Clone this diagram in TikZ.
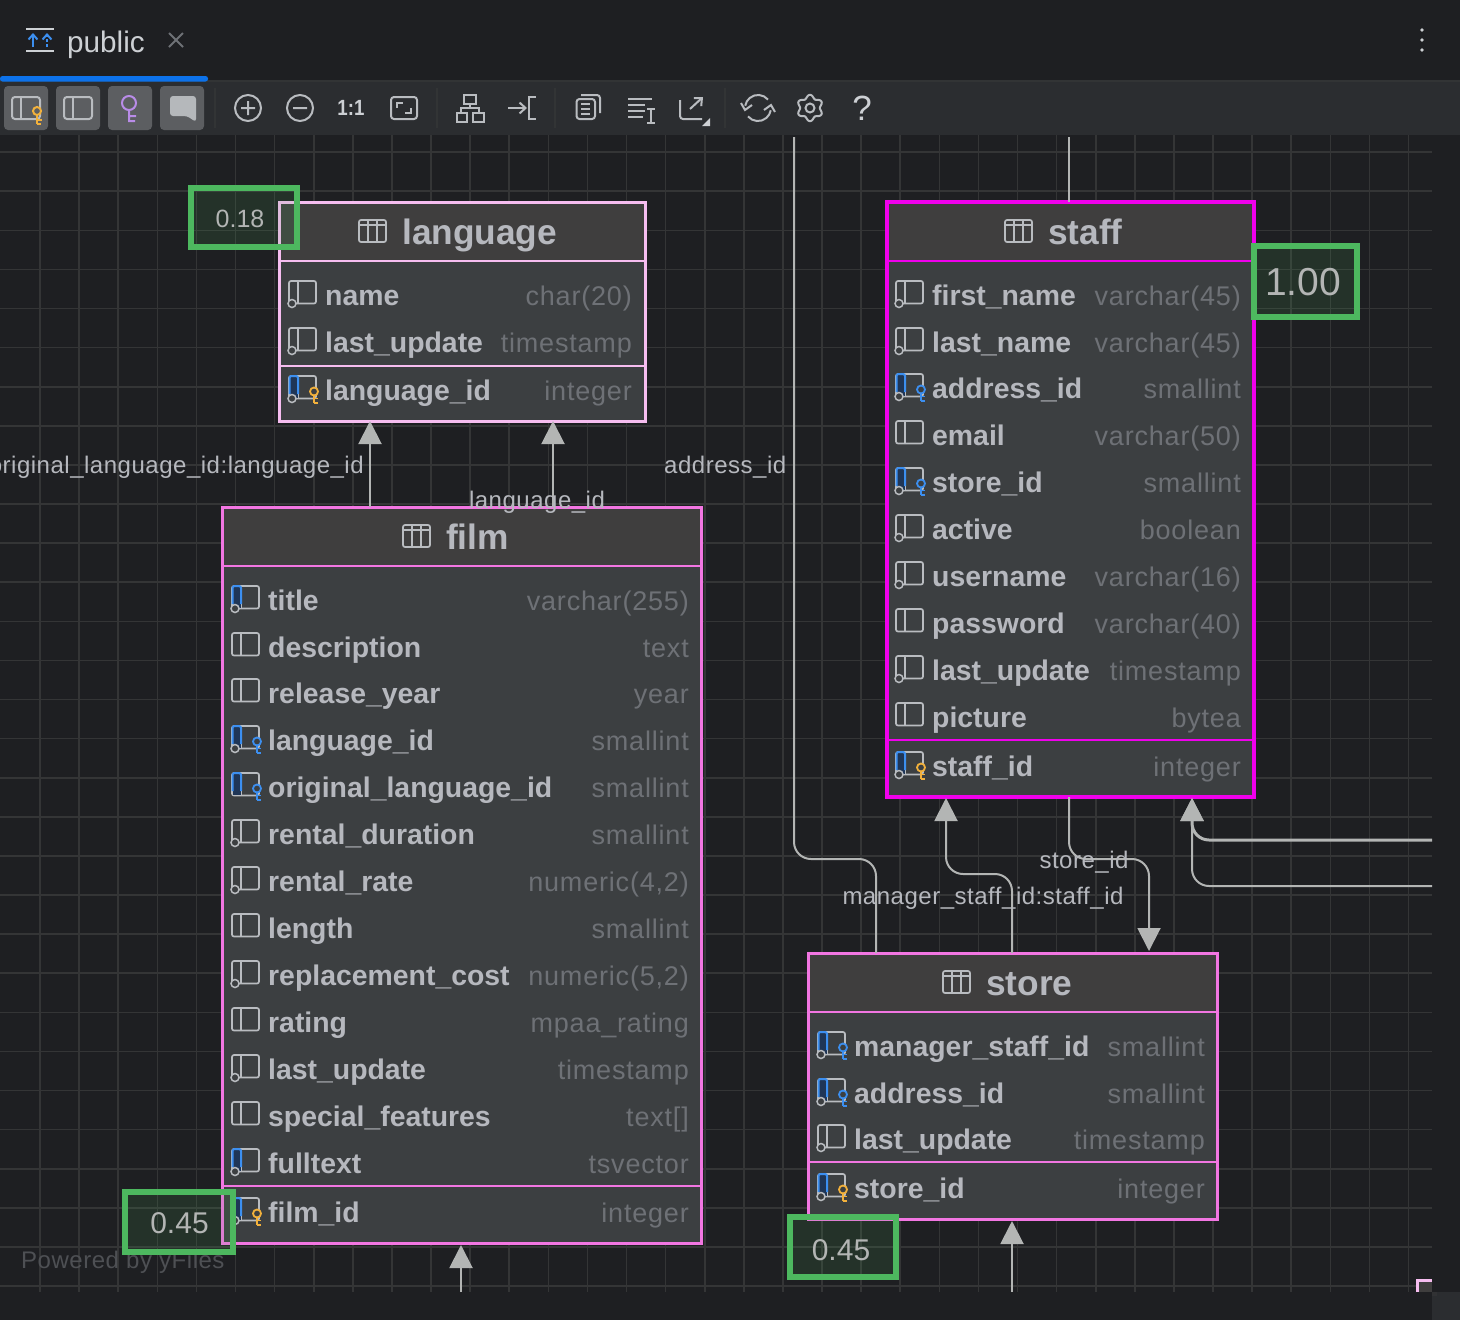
\documentclass[tikz,border=0pt]{standalone}
\usepackage{fontspec}
\setmainfont{Liberation Sans}
\newfontfamily\typefont[LetterSpace=3]{Liberation Sans}
\newfontfamily\labelfont[LetterSpace=2.15]{Liberation Sans}
\usetikzlibrary{arrows.meta}

\definecolor{canvasbg}{HTML}{1E1F22}
\definecolor{toolbarbg}{HTML}{2B2D30}
\definecolor{gridcol}{HTML}{343536}
\definecolor{rowbg}{HTML}{3C3F41}
\definecolor{headbg}{HTML}{3F3E3E}
\definecolor{inktext}{HTML}{B6B8BE}
\definecolor{typetext}{HTML}{6E7176}
\definecolor{linkcol}{HTML}{B3B5B4}
\definecolor{iconcol}{HTML}{B9BCC0}
\definecolor{barcol}{HTML}{CDD0D4}
\definecolor{keyorange}{HTML}{F2B13C}
\definecolor{keyblue}{HTML}{3C8FF0}
\definecolor{tabblue}{HTML}{0D72EA}
\definecolor{navy}{HTML}{1F3657}
\definecolor{keyviolet}{HTML}{B98CE8}
\definecolor{scoregreen}{HTML}{4DB85F}
\definecolor{paleborder}{HTML}{F6BDF0}
\definecolor{midborder}{HTML}{F276E2}
\definecolor{hotborder}{HTML}{F000EC}

\tikzset{
  gridline/.style={gridcol, line width=1.6pt},
  link/.style={linkcol, line width=2pt, rounded corners=17pt},
  tiplink/.style={link, -{Triangle[length=23pt,width=23pt]}},
  linklabel/.style={text=inktext, font=\labelfont\fontsize{24}{24}\selectfont, inner sep=0pt},
  paleedge/.style={draw=paleborder, line width=3pt},
  midedge/.style={draw=midborder, line width=3pt},
  hotedge/.style={draw=hotborder, line width=4pt},
  tablebox/.style={rectangle, fill=rowbg, inner sep=0pt, outer sep=0pt},
  headbox/.style={tablebox, fill=headbg, anchor=north west},
  headtext/.style={text=inktext, font=\bfseries\fontsize{35.3}{35}\selectfont, inner sep=0pt, anchor=base west},
  rowname/.style={text=inktext, font=\bfseries\fontsize{28.4}{28}\selectfont, inner sep=0pt, anchor=base west},
  rowtype/.style={text=typetext, font=\typefont\fontsize{27}{27}\selectfont, inner sep=0pt, anchor=base east},
  scorebox/.style={rectangle, draw=scoregreen, fill=scoregreen, fill opacity=.13, draw opacity=1, line width=6pt, inner sep=0pt, outer sep=0pt},
  scoretext/.style={text=linkcol, inner sep=0pt},
  iconline/.style={iconcol, line width=1.7pt},
  toolicon/.style={iconcol, line width=2pt},
  togglebtn/.style={rectangle, fill=barcol!30!toolbarbg, rounded corners=4pt, minimum width=44pt, minimum height=44pt, inner sep=0pt},
}

\newcommand{\colframe}{\draw[iconline, rounded corners=2pt] (-36,-14) rectangle (-9,8.5); \draw[iconline] (-27,-14) -- (-27,8.5);}
\newcommand{\colstripe}{\fill[navy] (-35,-13) rectangle (-27,8); \draw[keyblue, line width=2pt, rounded corners=2pt] (-35.5,4) -- (-35.5,-14) -- (-27,-14) -- (-27,4);}
\newcommand{\colring}{\filldraw[fill=rowbg, draw=iconcol, line width=1.5pt] (-33,8.5) circle (4);}
\newcommand{\colkey}[1]{\draw[#1, line width=1.8pt] (-11,5.5) -- (-11,13) (-11,8.5) -- (-7,8.5) (-11,13) -- (-7,13); \filldraw[fill=rowbg, draw=#1, line width=1.8pt] (-11,1.5) circle (4);}
\newcommand{\iconn}[2]{\begin{scope}[shift={(#1,#2)}]\colframe\colring\end{scope}}
\newcommand{\iconp}[2]{\begin{scope}[shift={(#1,#2)}]\colframe\end{scope}}
\newcommand{\iconc}[2]{\begin{scope}[shift={(#1,#2)}]\colframe\colstripe\colring\end{scope}}
\newcommand{\iconf}[2]{\begin{scope}[shift={(#1,#2)}]\colframe\colstripe\colring\colkey{keyblue}\end{scope}}
\newcommand{\icong}[2]{\begin{scope}[shift={(#1,#2)}]\colframe\colstripe\colkey{keyblue}\end{scope}}
\newcommand{\iconk}[2]{\begin{scope}[shift={(#1,#2)}]\colframe\colstripe\colring\colkey{keyorange}\end{scope}}

\newcommand{\tableicon}[2]{\begin{scope}[shift={(#1,#2)}]
  \draw[iconline, rounded corners=2pt] (0,-12) rectangle (27,10);
  \draw[iconline] (0,-7) -- (27,-7) (9,-12) -- (9,10) (18,-12) -- (18,10);
\end{scope}}

% name, left, top, right, bottom, header bottom, edge style, title x, title baseline
\newcommand{\dbtable}[9]{
  \node[tablebox, minimum width={(#4-#2)*1pt}, minimum height={(#5-#3)*1pt}] (#1) at ({(#2+#4)/2},{(#3+#5)/2}) {};
  \node[headbox, minimum width={(#4-#2)*1pt}, minimum height={(#6-#3)*1pt}] (#1-head) at (#1.north west) {};
  \draw[#7] (#1.north west) rectangle (#1.south east);
  \draw[#7, line width=2pt] (#1-head.south west) -- (#1-head.south east);
  \node[headtext] (#1-title) at (#8,#9) {#1};
  \tableicon{#8-43}{#9-12}
}
% table, name x, type right end, rows
\newcommand{\dbrows}[4]{
  \foreach \col/\typ/\kind/\y [count=\rownum] in {#4} {
    \node[rowname] (#1-col-\rownum) at (#2,\y+10) {\col};
    \node[rowtype] (#1-typ-\rownum) at (#3,\y+10) {\typ};
    \csname icon\kind\endcsname{#2}{\y}
  }
}

\begin{document}
\begin{tikzpicture}[x=1pt,y=-1pt]
\useasboundingbox (0,0) rectangle (1460,1320);
\fill[canvasbg] (0,0) rectangle (1460,1320);

% grid
\foreach \i in {0,...,35} \draw[gridline] ({40+39.1*\i},135) -- ({40+39.1*\i},1292);
\foreach \i in {0,...,29} \draw[gridline] (0,{1286-39.1*\i}) -- (1432,{1286-39.1*\i});
\node[text=typetext!60!canvasbg, font=\labelfont\fontsize{24}{24}\selectfont, inner sep=0pt, anchor=base west] (powered) at (21,1268) {Powered by yFiles};

% tables
\dbtable{language}{279}{202}{645}{421}{261}{paleedge}{402}{244}
\dbrows{language}{325}{632}{name/char(20)/n/295, last\_update/timestamp/n/342, language\_id/integer/k/390}
\draw[paleedge, line width=2.5pt] (language.west |- 0,366) -- (language.east |- 0,366);

\dbtable{film}{222}{507}{701}{1243}{566}{midedge}{446}{549}
\dbrows{film}{268}{689}{title/varchar(255)/c/600, description/text/p/647, release\_year/year/p/693,
  language\_id/smallint/f/740, original\_language\_id/smallint/g/787, rental\_duration/smallint/n/834,
  rental\_rate/{numeric(4,2)}/n/881, length/smallint/p/928, replacement\_cost/{numeric(5,2)}/n/975,
  rating/mpaa\_rating/p/1022, last\_update/timestamp/n/1069, special\_features/text[]/p/1116,
  fulltext/tsvector/c/1163, film\_id/integer/k/1212}
\draw[midedge, line width=2.5pt] (film.west |- 0,1186) -- (film.east |- 0,1186);

\dbtable{staff}{887}{202}{1254}{797}{261}{hotedge}{1048}{244}
\dbrows{staff}{932}{1241}{first\_name/varchar(45)/n/295, last\_name/varchar(45)/n/342, address\_id/smallint/f/388,
  email/varchar(50)/p/435, store\_id/smallint/f/482, active/boolean/n/529, username/varchar(16)/n/576,
  password/varchar(40)/p/623, last\_update/timestamp/n/670, picture/bytea/p/717, staff\_id/integer/k/766}
\draw[hotedge, line width=2.5pt] (staff.west |- 0,740) -- (staff.east |- 0,740);

\dbtable{store}{808}{953}{1217}{1219}{1012}{midedge}{986}{995}
\dbrows{store}{854}{1205}{manager\_staff\_id/smallint/f/1046, address\_id/smallint/f/1093, last\_update/timestamp/n/1139, store\_id/integer/k/1188}
\draw[midedge, line width=2.5pt] (store.west |- 0,1162) -- (store.east |- 0,1162);

% connectors
\coordinate (origlang) at (370,464);
\coordinate (langid) at (553,464);
\coordinate (addrtop) at (794,137);
\coordinate (addrbend) at (876,859);
\coordinate (stafftop) at (1069,137);
\coordinate (mgrbend) at (1012,874);
\coordinate (mgrtip) at (946,798);
\coordinate (storeout) at (1069,797);
\coordinate (storebend) at (1149,859);
\coordinate (storetip) at (1149,951);
\coordinate (rightA) at (1432,840);
\coordinate (rightB) at (1432,886);
\coordinate (righttip) at (1192,798);
\coordinate (filmfoot) at (461,1292);
\coordinate (filmtip) at (461,1245);
\coordinate (storefoot) at (1012,1292);
\coordinate (storebottom) at (1012,1221);

\draw[tiplink] (film.north -| origlang) -- (language.south -| origlang);
\draw[tiplink] (film.north -| langid) -- (language.south -| langid);
\draw[link] (addrtop) |- (addrbend) -- (store.north -| addrbend);
\draw[link] (stafftop) -- (staff.north -| stafftop);
\draw[tiplink] (store.north -| mgrbend) -- (mgrbend) -| (mgrtip);
\draw[tiplink] (storeout) |- (storebend) -- (storetip);
\draw[tiplink, line width=3pt] (rightA) -| (righttip);
\draw[tiplink] (rightB) -| (righttip);
\draw[tiplink] (filmfoot) -- (filmtip);
\draw[tiplink] (storefoot) -- (storebottom);

\node[linklabel, anchor=base east] (origlabel) at (364,473) {original\_language\_id:language\_id};
\node[linklabel, anchor=base] (langlabel) at (537,508) {language\_id};
\node[linklabel, anchor=base west] (addrlabel) at (664,473) {address\_id};
\node[linklabel, anchor=base] (storelabel) at (1084,868) {store\_id};
\node[linklabel, anchor=base] (mgrlabel) at (983,904) {manager\_staff\_id:staff\_id};

% scores
\node[scorebox, minimum width=106pt, minimum height=59pt] (score-language) at (244,217.5) {};
\node[scoretext, font=\fontsize{25}{25}\selectfont] (score-language-txt) at (240,219) {0.18};
\node[scorebox, minimum width=103pt, minimum height=71pt] (score-staff) at (1305.5,281.5) {};
\node[scoretext, font=\fontsize{39}{39}\selectfont] (score-staff-txt) at (1303,282) {1.00};
\node[scorebox, minimum width=108pt, minimum height=60pt] (score-film) at (179,1222) {};
\node[scoretext, font=\fontsize{30}{30}\selectfont] (score-film-txt) at (179.5,1223) {0.45};
\node[scorebox, minimum width=106pt, minimum height=60pt] (score-store) at (843,1247) {};
\node[scoretext, font=\fontsize{30}{30}\selectfont] (score-store-txt) at (841,1250) {0.45};

% cut off table in the corner
\fill[headbg] (1416,1279) rectangle (1432,1292);
\draw[paleborder, line width=3pt] (1417.5,1292) -- (1417.5,1280.5) -- (1432,1280.5);
\fill[toolbarbg] (1432,1292) rectangle (1460,1320);
\fill[gridcol!70!toolbarbg] (1432,1292) rectangle (1437,1296);

% top bars
\fill[canvasbg] (0,0) rectangle (1460,80);
\fill[gridcol!80!toolbarbg] (0,80) rectangle (1460,82);
\fill[toolbarbg] (0,82) rectangle (1460,135);
\fill[tabblue, rounded corners=2.5pt] (0,76) rectangle (208,81.5);
\draw[barcol, line width=1.6pt] (26,29) -- (54,29) (26,51) -- (54,51);
\draw[keyblue, line width=2pt, -{Straight Barb[length=5pt,width=9pt]}] (33,47) -- (33,33);
\draw[keyblue, line width=2pt, densely dashed, -{Straight Barb[length=5pt,width=9pt]}] (47,47) -- (47,33);
\node[text=barcol, font=\fontsize{29.7}{30}\selectfont, inner sep=0pt, anchor=base west] (tabname) at (67,52) {public};
\draw[typetext, line width=2pt] (169,33) -- (183,47) (183,33) -- (169,47);
\foreach \y in {30,40,50} \fill[barcol] (1422,\y) circle (1.9);

% toolbar
\node[togglebtn] (btn1) at (26,108) {};
\node[togglebtn] (btn2) at (78,108) {};
\node[togglebtn] (btn3) at (130,108) {};
\node[togglebtn] (btn4) at (182,108) {};
\foreach \x in {215,437,555,725} \draw[gridcol!80!toolbarbg, line width=2pt] (\x,88) -- (\x,128);

\draw[toolicon, rounded corners=3pt] (12,97) rectangle (40,119);
\draw[toolicon] (21,97) -- (21,119);
\draw[keyorange, line width=2pt] (37,116) -- (37,124) (37,120) -- (42,120) (37,123.5) -- (41,123.5);
\filldraw[fill=barcol!30!toolbarbg, draw=keyorange, line width=2pt] (37,111) circle (4);
\draw[toolicon, rounded corners=3pt] (64,97) rectangle (92,119);
\draw[toolicon] (73,97) -- (73,119);
\draw[keyviolet, line width=2pt] (129,103) circle (7) (129,110) -- (129,122) (129,116) -- (136,116) (129,121) -- (135,121);
\fill[barcol!85!toolbarbg, rounded corners=3pt] (170,96) -- (196,96) -- (196,115) -- (196,122) -- (187,116) -- (170,116) -- cycle;

\draw[toolicon] (248,108) circle (13) (241,108) -- (255,108) (248,101) -- (248,115);
\draw[toolicon] (300,108) circle (13) (293,108) -- (307,108);
\node[text=barcol, font=\bfseries\fontsize{22}{22}\selectfont, inner sep=0pt, xscale=.85] (oneone) at (351,108) {1:1};
\draw[toolicon, rounded corners=3pt] (391,97) rectangle (417,119);
\draw[toolicon] (397,108) -- (397,103) -- (403,103) (411,108) -- (411,113) -- (405,113);

\draw[toolicon] (464,95) rectangle (476,104) (456.5,113) rectangle (467,121.5) (473,113) rectangle (484,121.5);
\draw[toolicon] (470,104) -- (470,108) (461,113) -- (461,108) -- (479,108) -- (479,113);
\draw[toolicon, -{Straight Barb[length=6pt,width=11pt]}] (508,108) -- (527,108);
\draw[toolicon] (536,97) -- (529,97) -- (529,119) -- (536,119);

\draw[toolicon, rounded corners=3pt] (576.5,99) rectangle (595,119);
\draw[toolicon, rounded corners=3pt] (581,95) -- (600,95) -- (600,113);
\draw[toolicon] (581,104) -- (590,104) (581,109) -- (590,109) (581,114) -- (590,114);
\draw[toolicon] (628,99) -- (652,99) (628,105) -- (645,105) (628,111) -- (645,111) (628,117) -- (643,117);
\draw[toolicon, line width=1.6pt] (651,110) -- (651,123) (647,109) -- (655,109) (647,123) -- (655,123);
\draw[toolicon, rounded corners=3pt] (680,100) -- (680,119) -- (702,119);
\draw[toolicon, -{Straight Barb[length=6pt,width=11pt]}] (690,109) -- (703,97);
\fill[barcol] (710,118) -- (710,126) -- (702,126) -- cycle;

\draw[toolicon] (768,99.6) arc (-40:-170:13);
\draw[toolicon] (741,103) -- (745,110) -- (752,105);
\draw[toolicon] (748,116.4) arc (140:10:13);
\draw[toolicon] (764,110) -- (771,105) -- (775,112);
\begin{scope}[shift={(810,108)}]
  \draw[toolicon] plot[smooth cycle, domain=0:355, samples=72] ({(11.5-1.7*cos(6*\x))*cos(\x)},{(11.5-1.7*cos(6*\x))*sin(\x)});
  \draw[toolicon] (0,0) circle (4.5);
\end{scope}
\node[text=barcol, font=\fontsize{35}{35}\selectfont, inner sep=0pt] (helpmark) at (862,108) {?};
\end{tikzpicture}
\end{document}
